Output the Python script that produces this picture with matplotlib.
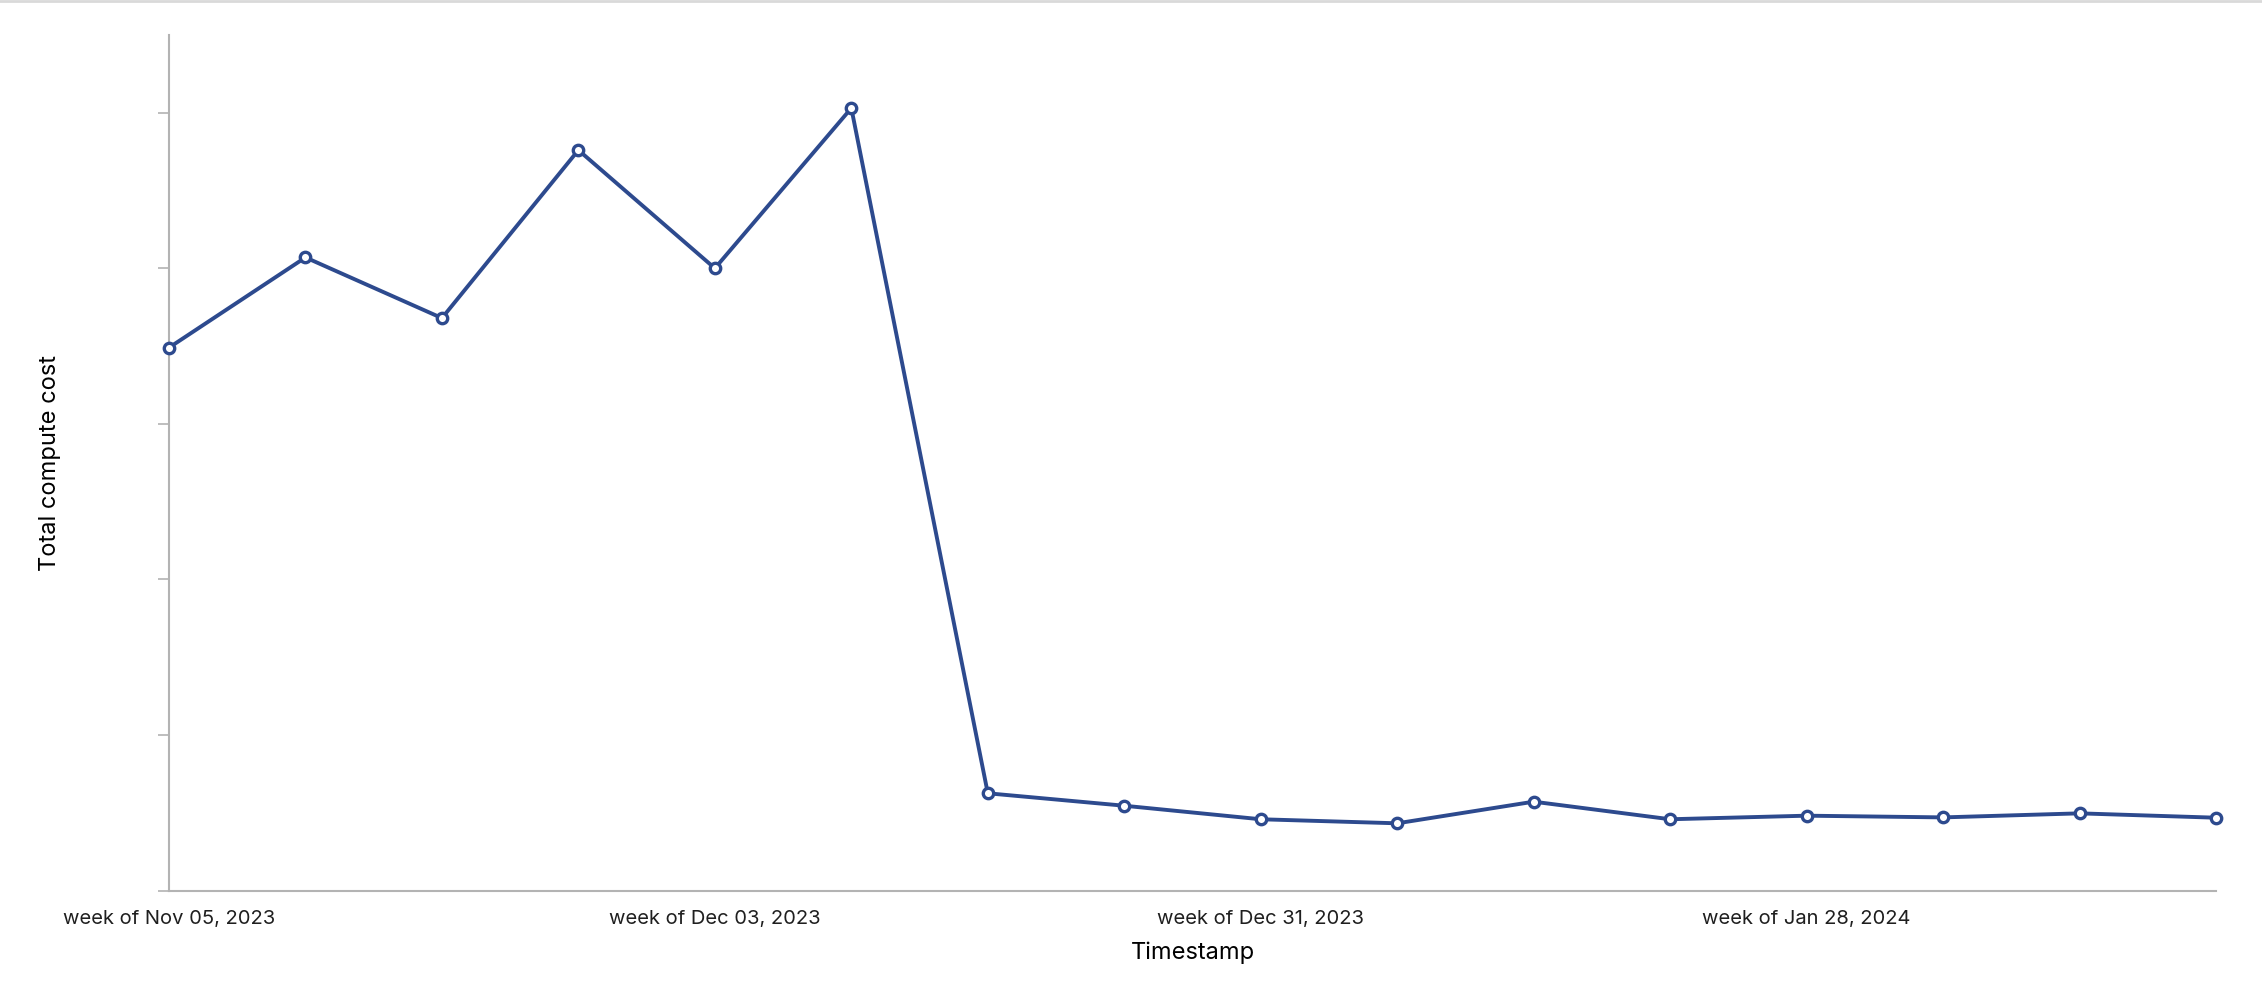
import matplotlib.pyplot as plt
import pandas as pd

# --- Data (y axis has no labels) ---
weeks = ['2023-11-05', '2023-11-12', '2023-11-19', '2023-11-26',
         '2023-12-03', '2023-12-10', '2023-12-17', '2023-12-24',
         '2023-12-31', '2024-01-07', '2024-01-14', '2024-01-21',
         '2024-01-28', '2024-02-04', '2024-02-11', '2024-02-18']
cost = [3.49, 4.07, 3.68, 4.76, 4.00, 5.03, 0.625, 0.545,
        0.458, 0.432, 0.571, 0.458, 0.481, 0.470, 0.496, 0.468]
label_every = 4
y_ticks = [0, 1, 2, 3, 4, 5]

# --- Style ---
LINE_COLOR = '#2d4a8e'
AXIS_COLOR = '#b3b3b3'
TEXT_COLOR = '#1f1f1f'
plt.rcParams['font.family'] = ['Inter', 'DejaVu Sans']

dates = pd.to_datetime(weeks)
x = list(range(len(dates)))

fig = plt.figure(figsize=(22.62, 9.86), dpi=100)
ax = fig.add_axes([169 / 2262, 95.5 / 986, (2216 - 169) / 2262, (951 - 95.5) / 986])

ax.plot(x, cost, color=LINE_COLOR, linewidth=2.8, marker='o', markersize=7.5,
        markerfacecolor='white', markeredgecolor=LINE_COLOR, markeredgewidth=2.4,
        clip_on=False, zorder=3)

ax.set_xlim(0, len(x) - 1)
ax.set_ylim(0, 5.5)

tick_pos = x[::label_every]
ax.set_xticks(tick_pos)
ax.set_xticklabels(['week of ' + dates[i].strftime('%b %d, %Y') for i in tick_pos],
                   fontsize=14.5, color=TEXT_COLOR)
ax.tick_params(axis='x', length=0, pad=14)

ax.set_yticks(y_ticks)
ax.set_yticklabels([])
ax.tick_params(axis='y', length=8, width=1.2, color=AXIS_COLOR)

for side in ['top', 'right']:
    ax.spines[side].set_visible(False)
for side in ['left', 'bottom']:
    ax.spines[side].set_color(AXIS_COLOR)
    ax.spines[side].set_linewidth(1.5)

ax.set_xlabel('Timestamp', fontsize=17, color='black', labelpad=10)
ax.set_ylabel('Total compute cost', fontsize=17, color='black', labelpad=0)
ax.yaxis.set_label_coords(-0.053, 0.5)

# thin gray rule along the top of the figure
fig.add_artist(plt.Line2D([0, 1], [0.999, 0.999], transform=fig.transFigure,
                          color='#d9d9d9', linewidth=2))

fig.savefig('out.png', dpi=100)
